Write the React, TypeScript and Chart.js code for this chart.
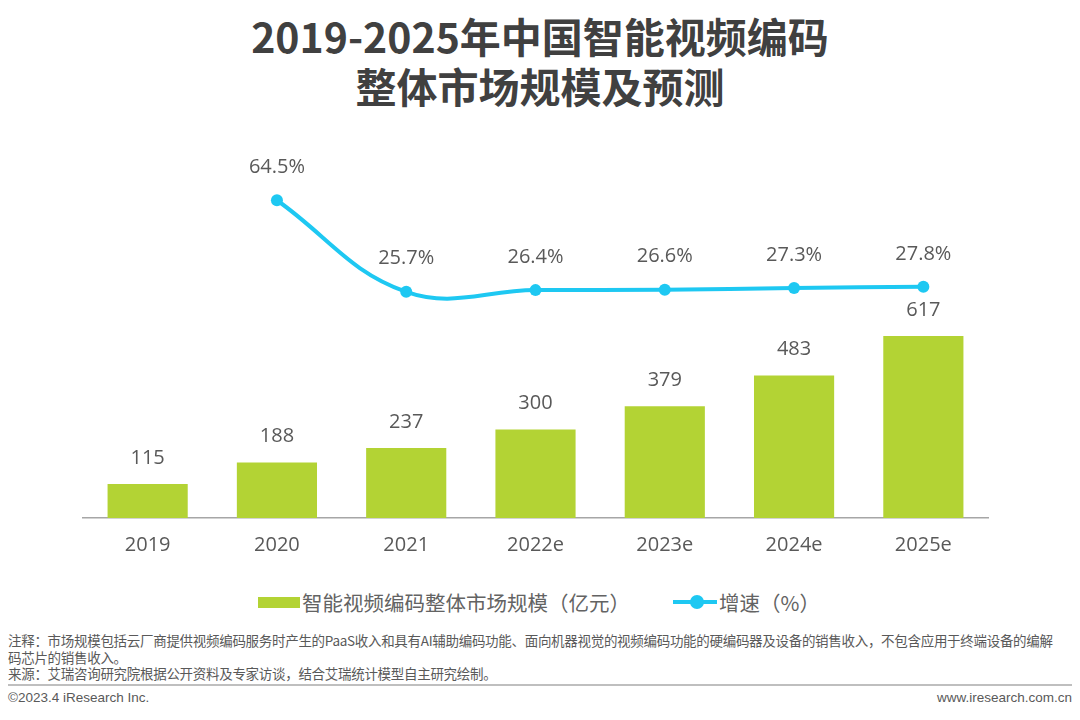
import React, { useEffect, useRef } from "react";
import { Chart, registerables } from "chart.js";

Chart.register(...registerables);

const categories = ["2019", "2020", "2021", "2022e", "2023e", "2024e", "2025e"];
const marketSize = [115, 188, 237, 300, 379, 483, 617];
const growthRate: (number | null)[] = [null, 64.5, 25.7, 26.4, 26.6, 27.3, 27.8];

const barLabel = "智能视频编码整体市场规模（亿元）";
const lineLabel = "增速（%）";
const title1 = "2019-2025年中国智能视频编码";
const title2 = "整体市场规模及预测";
const note1 = "注释：市场规模包括云厂商提供视频编码服务时产生的PaaS收入和具有AI辅助编码功能、面向机器视觉的视频编码功能的硬编码器及设备的销售收入，不包含应用于终端设备的编解";
const note2 = "码芯片的销售收入。";
const note3 = "来源：艾瑞咨询研究院根据公开资料及专家访谈，结合艾瑞统计模型自主研究绘制。";
const footLeft = "©2023.4 iResearch Inc.";
const footRight = "www.iresearch.com.cn";

const GREEN = "#b3d334";
const BLUE = "#1ec8f2";
const TEXT = "#595959";
const FONT = "'Open Sans', 'Noto Sans CJK SC', sans-serif";

const labelPlugin = {
  id: "valueLabels",
  afterDatasetsDraw(chart: any) {
    const ctx = chart.ctx;
    ctx.save();
    ctx.fillStyle = TEXT;
    ctx.font = `20px ${FONT}`;
    ctx.textAlign = "center";
    ctx.textBaseline = "middle";
    const barMeta = chart.getDatasetMeta(0);
    barMeta.data.forEach((el: any, i: number) => {
      ctx.fillText(String(marketSize[i]), el.x, el.y - 26);
    });
    const lineMeta = chart.getDatasetMeta(1);
    lineMeta.data.forEach((el: any, i: number) => {
      const v = growthRate[i];
      if (v == null) return;
      ctx.fillText(v.toFixed(1) + "%", el.x, el.y - 33);
    });
    ctx.restore();
  },
};

export default function App() {
  const ref = useRef<HTMLCanvasElement>(null);
  useEffect(() => {
    document.body.style.margin = "0";
    if (!ref.current) return;
    const chart = new Chart(ref.current, {
      data: {
        labels: categories,
        datasets: [
          {
            type: "bar",
            label: barLabel,
            data: marketSize,
            backgroundColor: GREEN,
            yAxisID: "y",
            categoryPercentage: 1,
            barPercentage: 0.62,
            order: 2,
          },
          {
            type: "line",
            label: lineLabel,
            data: growthRate,
            borderColor: BLUE,
            backgroundColor: BLUE,
            borderWidth: 4,
            pointRadius: 6,
            pointBackgroundColor: BLUE,
            pointBorderWidth: 0,
            tension: 0.4,
            yAxisID: "y1",
            order: 1,
          },
        ] as any,
      },
      options: {
        animation: false,
        responsive: false,
        maintainAspectRatio: false,
        layout: { padding: { left: 83, right: 92, top: 10, bottom: 6 } },
        plugins: { legend: { display: false }, tooltip: { enabled: false }, title: { display: false } },
        scales: {
          x: {
            grid: { display: false },
            border: { display: true, color: "#a6a6a6", width: 1.5 },
            ticks: { color: TEXT, font: { size: 20, family: FONT }, padding: 7 },
          },
          y: { display: false, min: 0, max: 1247 },
          y1: { display: false, min: -70.2, max: 85.8 },
        },
      },
      plugins: [labelPlugin],
    });
    return () => chart.destroy();
  }, []);

  return (
    <div style={{ position: "relative", width: 1080, height: 720, background: "#fff", fontFamily: FONT, overflow: "hidden" }}>
      <div style={{ position: "absolute", top: 10, left: 0, width: 1080, textAlign: "center", color: "#404040", fontWeight: 700, fontSize: 41, lineHeight: "50px", fontFamily: "'Noto Sans CJK SC', sans-serif" }}>
        <div>{title1}</div>
        <div>{title2}</div>
      </div>
      <canvas ref={ref} width={1080} height={430} style={{ position: "absolute", left: 0, top: 140, width: 1080, height: 430 }} />
      <div style={{ position: "absolute", top: 588, left: 0, width: 1080, height: 28, color: "#636363", fontSize: 20.5, fontFamily: "'Noto Sans CJK SC', sans-serif" }}>
        <div style={{ position: "absolute", left: 258, top: 9, width: 42, height: 11, background: GREEN }} />
        <div style={{ position: "absolute", left: 302, top: 0, lineHeight: "28px" }}>{barLabel}</div>
        <div style={{ position: "absolute", left: 673, top: 12, width: 44, height: 4, background: BLUE }} />
        <div style={{ position: "absolute", left: 690, top: 7, width: 14, height: 14, borderRadius: 7, background: BLUE }} />
        <div style={{ position: "absolute", left: 719, top: 0, lineHeight: "28px" }}>{lineLabel}</div>
      </div>
      <div style={{ position: "absolute", top: 632, left: 8, width: 1072, color: TEXT, fontSize: 13.5, lineHeight: "16.5px", fontFamily: "'Noto Sans CJK SC', sans-serif", letterSpacing: -0.3 }}>
        <div style={{ whiteSpace: "nowrap" }}>{note1}</div>
        <div>{note2}</div>
        <div>{note3}</div>
      </div>
      <div style={{ position: "absolute", top: 684, left: 8, width: 1064, height: 2, background: "#bfbfbf" }} />
      <div style={{ position: "absolute", top: 690, left: 8, color: TEXT, fontSize: 13.5, fontFamily: "'Liberation Sans', Arial, sans-serif" }}>{footLeft}</div>
      <div style={{ position: "absolute", top: 690, right: 8, color: TEXT, fontSize: 13.5, fontFamily: "'Liberation Sans', Arial, sans-serif" }}>{footRight}</div>
    </div>
  );
}
